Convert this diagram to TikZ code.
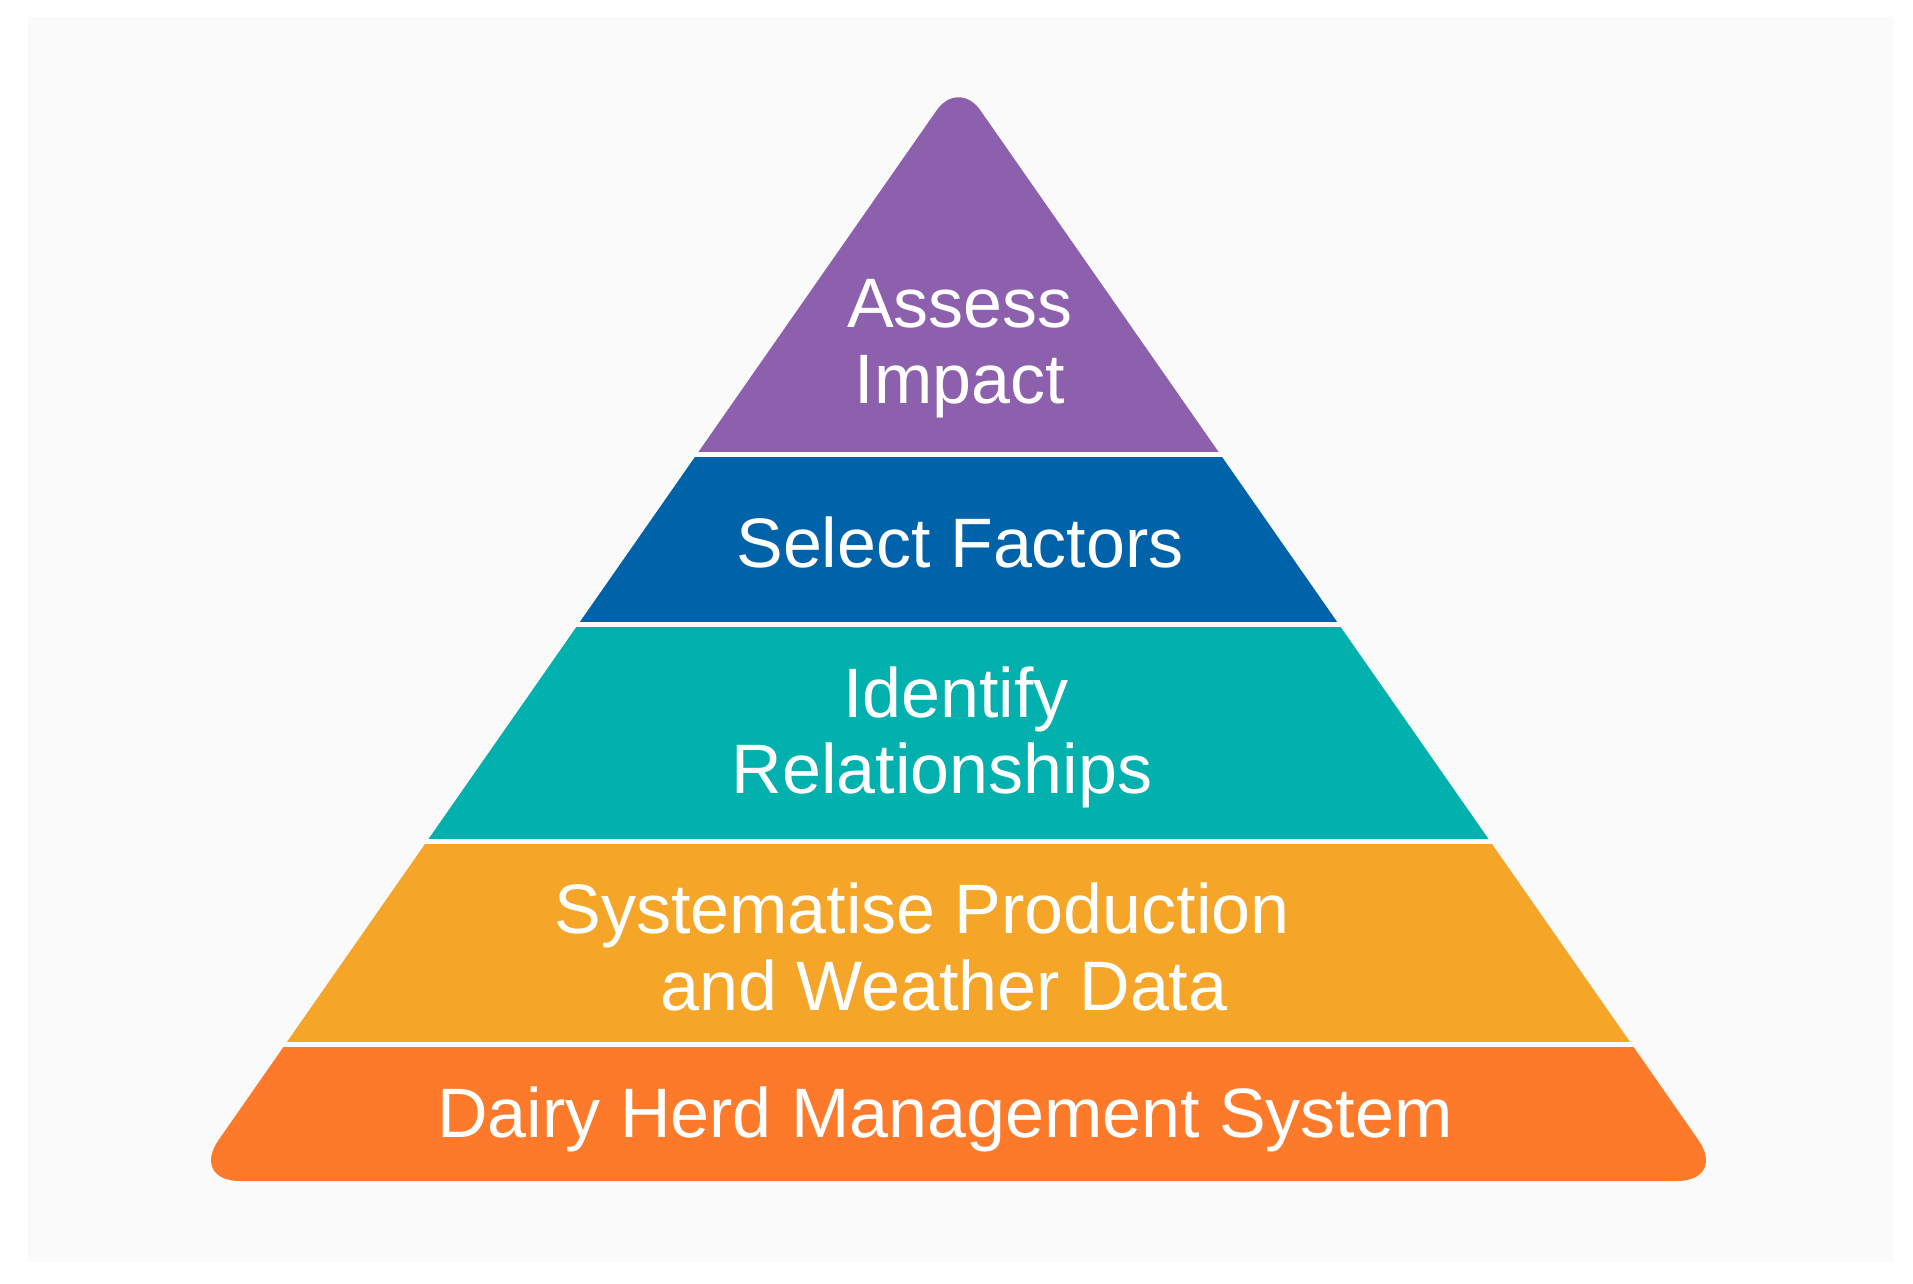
\documentclass[tikz,border=0pt]{standalone}
\usepackage{fontspec}
\setmainfont{Liberation Sans}
\usetikzlibrary{calc}
\definecolor{bgc}{HTML}{FAFAFA}
\definecolor{cpurple}{HTML}{8D60AD}
\definecolor{cblue}{HTML}{0062A8}
\definecolor{cteal}{HTML}{02B0AE}
\definecolor{cyellow}{HTML}{F5A629}
\definecolor{corange}{HTML}{FC7A2A}
\begin{document}
\begin{tikzpicture}[x=1pt,y=-1pt,
  lbl/.style={text=white, anchor=base, inner sep=0pt, font=\fontsize{70}{76}\selectfont}]
\useasboundingbox (0,0) rectangle (1913,1284);
\fill[white] (0,0) rectangle (1913,1284);
\fill[bgc] (28,17) rectangle (1893,1262);
% sharp vertices
\coordinate (A) at (958.5,79);
\coordinate (L) at (190,1181);
\coordinate (R) at (1727,1181);
% tangent points of the rounded corners
\coordinate (Aa) at ($(A)!38pt!(L)$);
\coordinate (Ab) at ($(A)!38pt!(R)$);
\coordinate (La) at ($(L)!50pt!(R)$);
\coordinate (Lb) at ($(L)!50pt!(A)$);
\coordinate (Ra) at ($(R)!50pt!(A)$);
\coordinate (Rb) at ($(R)!50pt!(L)$);
\def\pyramid{(La) .. controls ($(La)!0.55!(L)$) and ($(Lb)!0.55!(L)$) .. (Lb)
  -- (Aa) .. controls ($(Aa)!0.55!(A)$) and ($(Ab)!0.55!(A)$) .. (Ab)
  -- (Ra) .. controls ($(Ra)!0.55!(R)$) and ($(Rb)!0.55!(R)$) .. (Rb) -- cycle}
\foreach \ya/\yb/\col in {0/451/cpurple, 457/621/cblue, 627/838/cteal, 844/1041/cyellow, 1047/1250/corange}{
  \begin{scope}
    \clip (0,\ya) rectangle (1913,\yb);
    \fill[\col] \pyramid;
  \end{scope}
}
\node[lbl] (t1a) at (960,327) {Assess};
\node[lbl] (t1b) at (960,403) {Impact};
\node[lbl] (t2) at (960,567) {Select Factors};
\node[lbl] (t3a) at (956,717) {Identify};
\node[lbl] (t3b) at (942,793) {Relationships};
\node[lbl] (t4a) at (922,933) {Systematise Production};
\node[lbl] (t4b) at (944,1010) {and Weather Data};
\node[lbl] (t5) at (945,1137) {Dairy Herd Management System};
\end{tikzpicture}
\end{document}
